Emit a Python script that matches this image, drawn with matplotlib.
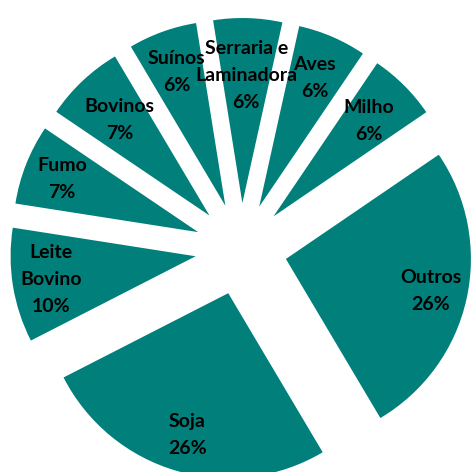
import math
import matplotlib
matplotlib.use("Agg")
import matplotlib.pyplot as plt

# Share of each activity (%), listed clockwise from the top
categories = ["Aves", "Milho", "Outros", "Soja", "Leite\nBovino",
              "Fumo", "Bovinos", "Suínos", "Serraria e\nLaminadora"]
shares = [6, 6, 26, 26, 10, 7, 7, 6, 6]

W, H = 471, 472
fig = plt.figure(figsize=(W / 100, H / 100), dpi=100)
ax = fig.add_axes([0, 0, 1, 1])

radius = 185
wedges, _ = ax.pie(
    shares,
    startangle=77.5,
    counterclock=False,
    radius=radius,
    center=(241, H - 249),
    explode=[46] * len(shares),
    colors=["#007f7b"] * len(shares),
    wedgeprops=dict(linewidth=0),
    frame=True,
)

# radial position of each label, as a fraction of the wedge radius
label_radius = [0.76, 0.73, 0.80, 0.80, 0.79, 0.79, 0.71, 0.77, 0.69]

for w, name, val, lr in zip(wedges, categories, shares, label_radius):
    mid = math.radians((w.theta1 + w.theta2) / 2)
    cx, cy = w.center
    ax.text(cx + lr * w.r * math.cos(mid), cy + lr * w.r * math.sin(mid),
            f"{name}\n{val}%", ha="center", va="center",
            fontsize=14, fontweight="bold", color="#000000",
            family="Lato", linespacing=1.72)

ax.set_xlim(0, W)
ax.set_ylim(0, H)
ax.set_aspect("equal")
ax.axis("off")

fig.savefig("out.png", dpi=100)
